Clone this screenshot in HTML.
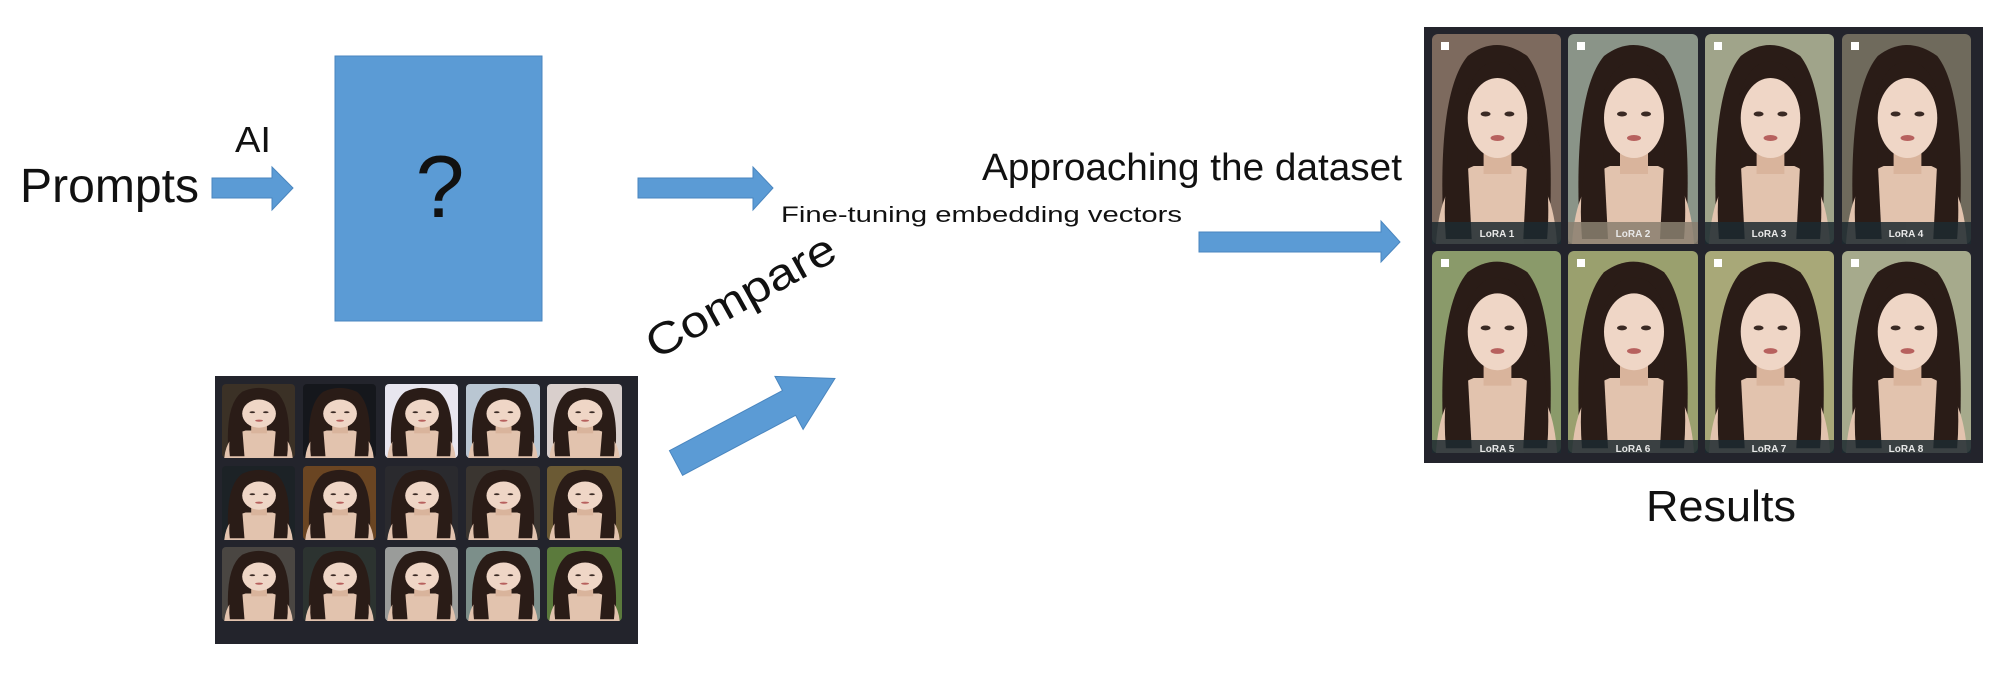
<!DOCTYPE html>
<html><head><meta charset="utf-8"><style>
html,body{margin:0;padding:0;background:#fff;}
svg{display:block;}
text{font-family:"Liberation Sans",sans-serif;fill:#111;}
</style></head><body>
<svg width="2000" height="674" viewBox="0 0 2000 674" xmlns="http://www.w3.org/2000/svg">
<defs>
<symbol id="face" viewBox="0 0 130 210" preserveAspectRatio="none">
  <path d="M12 205 Q4 60 36 22 Q65 0 96 22 Q126 60 118 205 Z" fill="#2a1c17"/>
  <path d="M4 210 Q8 145 42 132 L90 132 Q122 145 126 210 Z" fill="#e2c3ae"/>
  <rect x="52" y="105" width="28" height="35" fill="#d9b49c"/>
  <ellipse cx="66" cy="84" rx="30" ry="40" fill="#efd6c6"/>
  <path d="M34 62 Q46 26 66 28 Q88 26 98 64 Q84 40 66 42 Q48 42 34 62Z" fill="#2a1c17"/>
  <ellipse cx="54" cy="80" rx="5" ry="2.5" fill="#3a2a24"/>
  <ellipse cx="78" cy="80" rx="5" ry="2.5" fill="#3a2a24"/>
  <ellipse cx="66" cy="104" rx="7" ry="3" fill="#b7615e"/>
  <path d="M14 205 Q8 130 34 88 L40 205Z" fill="#2a1c17"/>
  <path d="M116 205 Q122 130 98 88 L92 205Z" fill="#2a1c17"/>
</symbol>
</defs>

<text x="20" y="202" font-size="48" textLength="179" lengthAdjust="spacingAndGlyphs">Prompts</text>
<text x="235" y="152" font-size="36" textLength="36" lengthAdjust="spacingAndGlyphs">AI</text>
<polygon points="212,178 272,178 272,167 293,188 272,210 272,198 212,198" fill="#5b9bd5" stroke="#4a86bf" stroke-width="1"/>

<rect x="335" y="56" width="207" height="265" fill="#5b9bd5" stroke="#4a86bf" stroke-width="1"/>
<text x="440" y="217" font-size="88" text-anchor="middle">?</text>

<polygon points="638,178 753,178 753,167 773,188 753,210 753,198 638,198" fill="#5b9bd5" stroke="#4a86bf" stroke-width="1"/>
<text x="781" y="222" font-size="22" textLength="401" lengthAdjust="spacingAndGlyphs">Fine-tuning embedding vectors</text>

<text x="982" y="180" font-size="38" textLength="420" lengthAdjust="spacingAndGlyphs">Approaching the dataset</text>
<polygon points="1199,232 1381,232 1381,221 1400,242 1381,262 1381,252 1199,252" fill="#5b9bd5" stroke="#4a86bf" stroke-width="1"/>

<text x="0" y="0" font-size="44" textLength="210" lengthAdjust="spacingAndGlyphs" transform="translate(656,360) rotate(-29)">Compare</text>
<g transform="translate(676,463) rotate(-28)">
  <polygon points="0,-14 128,-14 128,-30 180,0 128,30 128,14 0,14" fill="#5b9bd5" stroke="#4a86bf" stroke-width="1"/>
</g>

<rect x="215" y="376" width="423" height="268" fill="#23242c"/>
<g>
  <rect x="222" y="384" width="73" height="74" rx="4" fill="#3b3126"/><use href="#face" x="222" y="384" width="73" height="74"/>
  <rect x="303" y="384" width="73" height="74" rx="4" fill="#15171c"/><use href="#face" x="303" y="384" width="73" height="74"/>
  <rect x="385" y="384" width="73" height="74" rx="4" fill="#e8e6ef"/><use href="#face" x="385" y="384" width="73" height="74"/>
  <rect x="466" y="384" width="74" height="74" rx="4" fill="#b9c6d2"/><use href="#face" x="466" y="384" width="74" height="74"/>
  <rect x="547" y="384" width="75" height="74" rx="4" fill="#d9cfcc"/><use href="#face" x="547" y="384" width="75" height="74"/>
  <rect x="222" y="466" width="73" height="74" rx="4" fill="#1c2226"/><use href="#face" x="222" y="466" width="73" height="74"/>
  <rect x="303" y="466" width="73" height="74" rx="4" fill="#6a4522"/><use href="#face" x="303" y="466" width="73" height="74"/>
  <rect x="385" y="466" width="73" height="74" rx="4" fill="#2a2a2e"/><use href="#face" x="385" y="466" width="73" height="74"/>
  <rect x="466" y="466" width="74" height="74" rx="4" fill="#3a3530"/><use href="#face" x="466" y="466" width="74" height="74"/>
  <rect x="547" y="466" width="75" height="74" rx="4" fill="#6b5a34"/><use href="#face" x="547" y="466" width="75" height="74"/>
  <rect x="222" y="547" width="73" height="74" rx="4" fill="#4a4642"/><use href="#face" x="222" y="547" width="73" height="74"/>
  <rect x="303" y="547" width="73" height="74" rx="4" fill="#2c3330"/><use href="#face" x="303" y="547" width="73" height="74"/>
  <rect x="385" y="547" width="73" height="74" rx="4" fill="#9a9c9a"/><use href="#face" x="385" y="547" width="73" height="74"/>
  <rect x="466" y="547" width="74" height="74" rx="4" fill="#7c8f8a"/><use href="#face" x="466" y="547" width="74" height="74"/>
  <rect x="547" y="547" width="75" height="74" rx="4" fill="#5b7a3c"/><use href="#face" x="547" y="547" width="75" height="74"/>
</g>

<rect x="1424" y="27" width="559" height="436" fill="#23242c"/>
<g font-size="10">
  <rect x="1432" y="34" width="129" height="210" rx="6" fill="#7d6a5e"/><use href="#face" x="1432" y="34" width="129" height="210"/>
  <rect x="1568" y="34" width="130" height="210" rx="6" fill="#8a9488"/><use href="#face" x="1568" y="34" width="130" height="210"/>
  <rect x="1705" y="34" width="129" height="210" rx="6" fill="#a0a48a"/><use href="#face" x="1705" y="34" width="129" height="210"/>
  <rect x="1842" y="34" width="129" height="210" rx="6" fill="#6f6a5c"/><use href="#face" x="1842" y="34" width="129" height="210"/>
  <rect x="1432" y="251" width="129" height="202" rx="6" fill="#8a9a6a"/><use href="#face" x="1432" y="251" width="129" height="202"/>
  <rect x="1568" y="251" width="130" height="202" rx="6" fill="#9aa06e"/><use href="#face" x="1568" y="251" width="130" height="202"/>
  <rect x="1705" y="251" width="129" height="202" rx="6" fill="#a8a878"/><use href="#face" x="1705" y="251" width="129" height="202"/>
  <rect x="1842" y="251" width="129" height="202" rx="6" fill="#a6aa8c"/><use href="#face" x="1842" y="251" width="129" height="202"/>
  <g fill="#1d2a30" opacity="0.85">
    <rect x="1432" y="222" width="129" height="22"/><rect x="1568" y="222" width="130" height="22" fill="#8a8070"/>
    <rect x="1705" y="222" width="129" height="22"/><rect x="1842" y="222" width="129" height="22"/>
    <rect x="1432" y="440" width="129" height="13"/><rect x="1568" y="440" width="130" height="13"/>
    <rect x="1705" y="440" width="129" height="13"/><rect x="1842" y="440" width="129" height="13"/>
  </g>
  <g fill="#fff">
    <rect x="1441" y="42" width="8" height="8"/><rect x="1577" y="42" width="8" height="8"/>
    <rect x="1714" y="42" width="8" height="8"/><rect x="1851" y="42" width="8" height="8"/>
    <rect x="1441" y="259" width="8" height="8"/><rect x="1577" y="259" width="8" height="8"/>
    <rect x="1714" y="259" width="8" height="8"/><rect x="1851" y="259" width="8" height="8"/>
  </g>
  <g text-anchor="middle" font-weight="bold">
    <text x="1497" y="237" style="fill:#e8e8e8">LoRA 1</text><text x="1633" y="237" style="fill:#e8e8e8">LoRA 2</text>
    <text x="1769" y="237" style="fill:#e8e8e8">LoRA 3</text><text x="1906" y="237" style="fill:#e8e8e8">LoRA 4</text>
    <text x="1497" y="452" style="fill:#e8e8e8">LoRA 5</text><text x="1633" y="452" style="fill:#e8e8e8">LoRA 6</text>
    <text x="1769" y="452" style="fill:#e8e8e8">LoRA 7</text><text x="1906" y="452" style="fill:#e8e8e8">LoRA 8</text>
  </g>
</g>
<text x="1646" y="521" font-size="44" textLength="150" lengthAdjust="spacingAndGlyphs">Results</text>
</svg>
</body></html>
